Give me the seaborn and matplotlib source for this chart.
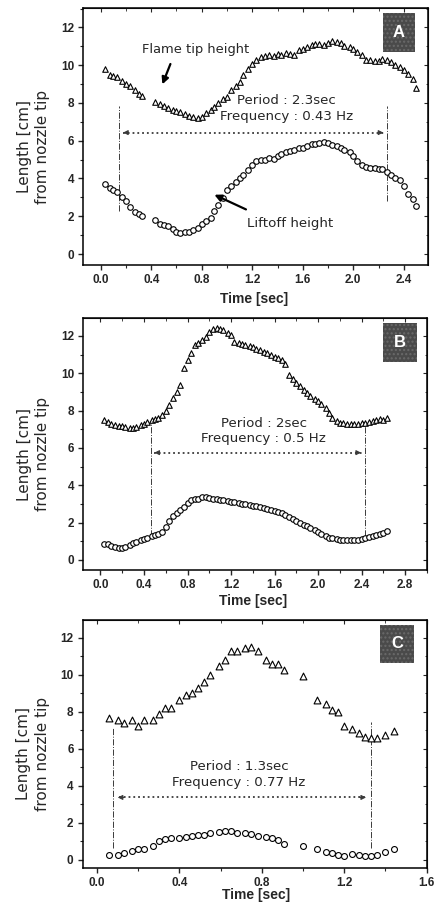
import matplotlib
matplotlib.use("Agg")
import matplotlib.pyplot as plt
import matplotlib.patches as mpatches
from matplotlib.ticker import MultipleLocator
import seaborn as sns

# ── Data ─────────────────────────────────────────────────────────────────────

# Panel A
TIME_A = [0.03, 0.07, 0.10, 0.13, 0.17, 0.20, 0.23, 0.27, 0.30, 0.33,
          0.43, 0.47, 0.50, 0.53, 0.57, 0.60, 0.63, 0.67, 0.70, 0.73,
          0.77, 0.80, 0.83, 0.87, 0.90, 0.93, 0.97,
          1.00, 1.03, 1.07, 1.10, 1.13, 1.17, 1.20, 1.23, 1.27, 1.30,
          1.33, 1.37, 1.40, 1.43, 1.47, 1.50, 1.53, 1.57, 1.60, 1.63,
          1.67, 1.70, 1.73, 1.77, 1.80, 1.83, 1.87, 1.90, 1.93, 1.97,
          2.00, 2.03, 2.07, 2.10, 2.13, 2.17, 2.20, 2.23, 2.27, 2.30,
          2.33, 2.37, 2.40, 2.43, 2.47, 2.50]
TIP_A = [9.8, 9.5, 9.45, 9.35, 9.15, 9.0, 8.9, 8.7, 8.5, 8.35,
         8.05, 7.95, 7.85, 7.75, 7.65, 7.55, 7.5, 7.4, 7.3, 7.25,
         7.2, 7.25, 7.45, 7.65, 7.8, 8.0, 8.2,
         8.3, 8.7, 8.9, 9.1, 9.5, 9.8, 10.05, 10.3, 10.45, 10.5,
         10.55, 10.5, 10.6, 10.55, 10.65, 10.6, 10.55, 10.8, 10.85, 10.95,
         11.05, 11.1, 11.1, 11.05, 11.2, 11.3, 11.25, 11.15, 11.0, 10.95,
         10.85, 10.7, 10.55, 10.3, 10.25, 10.2, 10.2, 10.35, 10.3, 10.15,
         10.0, 9.9, 9.75, 9.55, 9.25, 8.8]
LIFT_A = [3.7, 3.5, 3.4, 3.3, 3.0, 2.8, 2.5, 2.2, 2.1, 2.0,
          1.8, 1.6, 1.55, 1.5, 1.3, 1.15, 1.1, 1.15, 1.15, 1.25,
          1.4, 1.6, 1.75, 1.9, 2.3, 2.6, 2.95,
          3.4, 3.6, 3.8, 4.0, 4.2, 4.45, 4.7, 4.95, 5.0, 5.0,
          5.1, 5.05, 5.2, 5.3, 5.4, 5.45, 5.5, 5.6, 5.6, 5.7,
          5.8, 5.85, 5.9, 5.95, 5.9, 5.75, 5.7, 5.6, 5.5, 5.4,
          5.2, 4.9, 4.7, 4.6, 4.55, 4.55, 4.5, 4.5, 4.35, 4.2,
          4.05, 3.9, 3.6, 3.2, 2.9, 2.55]

# Panel B
TIME_B = [0.03, 0.07, 0.10, 0.13, 0.17, 0.20, 0.23, 0.27, 0.30, 0.33,
          0.37, 0.40, 0.43, 0.47, 0.50, 0.53, 0.57, 0.60, 0.63, 0.67,
          0.70, 0.73, 0.77, 0.80, 0.83, 0.87, 0.90, 0.93, 0.97,
          1.00, 1.03, 1.07, 1.10, 1.13, 1.17, 1.20, 1.23, 1.27, 1.30,
          1.33, 1.37, 1.40, 1.43, 1.47, 1.50, 1.53, 1.57, 1.60, 1.63,
          1.67, 1.70, 1.73, 1.77, 1.80, 1.83, 1.87, 1.90, 1.93, 1.97,
          2.00, 2.03, 2.07, 2.10, 2.13, 2.17, 2.20, 2.23, 2.27, 2.30,
          2.33, 2.37, 2.40, 2.43, 2.47, 2.50, 2.53, 2.57, 2.60, 2.63]
TIP_B = [7.5, 7.4, 7.3, 7.25, 7.2, 7.2, 7.1, 7.05, 7.05, 7.15,
         7.25, 7.3, 7.4, 7.5, 7.55, 7.6, 7.75, 8.0, 8.3, 8.7,
         9.0, 9.4, 10.3, 10.7, 11.1, 11.5, 11.6, 11.8, 11.95,
         12.2, 12.4, 12.45, 12.35, 12.3, 12.15, 12.05, 11.7, 11.6, 11.55,
         11.5, 11.45, 11.4, 11.3, 11.25, 11.15, 11.1, 11.0, 10.9, 10.8,
         10.7, 10.5, 9.9, 9.7, 9.5, 9.3, 9.1, 8.95, 8.8, 8.65,
         8.5, 8.35, 8.15, 7.9, 7.6, 7.45, 7.35, 7.35, 7.3, 7.3,
         7.3, 7.3, 7.35, 7.35, 7.4, 7.45, 7.5, 7.55, 7.5, 7.6]
LIFT_B = [0.85, 0.85, 0.75, 0.7, 0.65, 0.65, 0.7, 0.8, 0.9, 0.95,
          1.05, 1.1, 1.2, 1.3, 1.35, 1.4, 1.5, 1.75, 2.1, 2.35,
          2.5, 2.7, 2.85, 3.05, 3.2, 3.25, 3.25, 3.35, 3.35,
          3.3, 3.25, 3.25, 3.2, 3.2, 3.15, 3.1, 3.1, 3.05, 3.0,
          3.0, 2.95, 2.9, 2.9, 2.85, 2.8, 2.75, 2.7, 2.6, 2.55,
          2.5, 2.4, 2.3, 2.2, 2.1, 2.0, 1.9, 1.8, 1.7, 1.6,
          1.5, 1.4, 1.3, 1.2, 1.15, 1.1, 1.05, 1.05, 1.05, 1.05,
          1.05, 1.05, 1.1, 1.15, 1.25, 1.3, 1.35, 1.4, 1.45, 1.55]

# Panel C
TIME_C = [0.06, 0.10, 0.13, 0.17, 0.20, 0.23, 0.27, 0.30, 0.33, 0.36,
          0.40, 0.43, 0.46, 0.49, 0.52, 0.55, 0.59, 0.62, 0.65, 0.68,
          0.72, 0.75, 0.78, 0.82, 0.85, 0.88, 0.91,
          1.00, 1.07, 1.11, 1.14, 1.17, 1.20, 1.24, 1.27, 1.30,
          1.33, 1.36, 1.40, 1.44]
TIP_C = [7.65, 7.55, 7.4, 7.55, 7.2, 7.55, 7.55, 7.85, 8.2, 8.2,
         8.65, 8.9, 9.0, 9.25, 9.6, 9.95, 10.45, 10.8, 11.3, 11.25,
         11.45, 11.5, 11.25, 10.8, 10.55, 10.55, 10.25,
         9.9, 8.65, 8.4, 8.1, 8.0, 7.2, 7.05, 6.85, 6.65,
         6.55, 6.55, 6.75, 6.95]
LIFT_C = [0.25, 0.25, 0.35, 0.45, 0.55, 0.55, 0.75, 1.0, 1.1, 1.15,
          1.15, 1.2, 1.25, 1.35, 1.35, 1.45, 1.5, 1.55, 1.55, 1.45,
          1.45, 1.4, 1.3, 1.2, 1.15, 1.05, 0.85,
          0.75, 0.55, 0.4, 0.35, 0.25, 0.2, 0.3, 0.25, 0.2,
          0.2, 0.25, 0.4, 0.6]

PERIOD_TEXT = ["Period : 2.3sec\nFrequency : 0.43 Hz",
               "Period : 2sec\nFrequency : 0.5 Hz",
               "Period : 1.3sec\nFrequency : 0.77 Hz"]
PANEL_LABELS = ["A", "B", "C"]

# ── Style ────────────────────────────────────────────────────────────────────

sns.set_style("ticks")
plt.rcParams["font.family"] = ["Liberation Sans", "DejaVu Sans"]
ANNOT_FONT = "DejaVu Sans"
LINE_COL = "#3a3a3a"


def draw_series(ax, t, tip, lift, tri_s, circ_s):
    sns.scatterplot(x=t, y=tip, marker="^", s=tri_s, color="white",
                    edgecolor="black", linewidth=0.8, ax=ax, zorder=3)
    sns.scatterplot(x=t, y=lift, marker="o", s=circ_s, color="white",
                    edgecolor="black", linewidth=0.8, ax=ax, zorder=3)


def style_axes(ax, xlim, ylim, xmax_tick, xlabel_xy):
    ax.set_xlim(*xlim)
    ax.set_ylim(*ylim)
    ax.set_xticks([round(0.4 * i, 1) for i in range(int(round(xmax_tick / 0.4)) + 1)])
    ax.xaxis.set_minor_locator(MultipleLocator(0.2))
    ax.set_yticks([0, 2, 4, 6, 8, 10, 12])
    ax.yaxis.set_minor_locator(MultipleLocator(1))
    ax.xaxis.set_major_formatter(matplotlib.ticker.FormatStrFormatter("%.1f"))
    ax.tick_params(which="major", direction="out", length=3.5, width=1,
                   labelsize=8.5, pad=3)
    ax.tick_params(which="minor", direction="out", length=2, width=0.8)
    for lab in ax.get_xticklabels() + ax.get_yticklabels():
        lab.set_fontweight("bold")
    for spine in ax.spines.values():
        spine.set_visible(True)
        spine.set_linewidth(1.1)
        spine.set_color("black")

    # inward ticks on top / right
    top = ax.secondary_xaxis("top")
    top.set_xticks(ax.get_xticks())
    top.xaxis.set_minor_locator(MultipleLocator(0.2))
    top.tick_params(which="major", direction="in", length=3, labeltop=False)
    top.tick_params(which="minor", direction="in", length=1.8)
    right = ax.secondary_yaxis("right")
    right.set_yticks([0, 2, 4, 6, 8, 10, 12])
    right.yaxis.set_minor_locator(MultipleLocator(1))
    right.tick_params(which="major", direction="in", length=3, labelright=False)
    right.tick_params(which="minor", direction="in", length=1.8)

    ax.set_ylabel("Length [cm]\nfrom nozzle tip", fontsize=11,
                  family=ANNOT_FONT, linespacing=1.3)
    ax.yaxis.set_label_coords(-0.095, 0.46)
    ax.set_xlabel("Time [sec]", fontsize=10, fontweight="bold")
    ax.xaxis.set_label_coords(*xlabel_xy)


def period_marks(ax, x0, x1, lines0, lines1, yarrow, text_xy, text):
    ax.plot([x0, x0], lines0, ls="-.", lw=0.7, color=LINE_COL, zorder=2)
    ax.plot([x1, x1], lines1, ls="-.", lw=0.7, color=LINE_COL, zorder=2)
    ax.plot([x0 + 0.03, x1 - 0.03], [yarrow, yarrow], ls=":", lw=1.3,
            color=LINE_COL, zorder=2)
    span = (x1 - x0) * 0.03
    ax.annotate("", xy=(x0 + 0.01, yarrow), xytext=(x0 + span + 0.03, yarrow),
                arrowprops=dict(arrowstyle="-|>", color=LINE_COL, lw=0.8,
                                mutation_scale=7))
    ax.annotate("", xy=(x1 - 0.01, yarrow), xytext=(x1 - span - 0.03, yarrow),
                arrowprops=dict(arrowstyle="-|>", color=LINE_COL, lw=0.8,
                                mutation_scale=7))
    ax.text(*text_xy, text, ha="center", va="center", fontsize=9.6,
            family=ANNOT_FONT, linespacing=1.25, zorder=4)


def panel_badge(ax, x0, y0, w, h, letter):
    rect = mpatches.Rectangle((x0, y0), w, h, transform=ax.transAxes,
                              facecolor="#4a4a4a", edgecolor="#6a6a6a",
                              hatch="....", linewidth=0, zorder=5)
    ax.add_patch(rect)
    ax.text(x0 + w / 2, y0 + h / 2, letter, transform=ax.transAxes,
            ha="center", va="center", color="white", fontsize=12,
            fontweight="bold", zorder=6)


# ── Figure ───────────────────────────────────────────────────────────────────

fig = plt.figure(figsize=(4.37, 9.08), dpi=100)
ax_a = fig.add_axes([0.190, 0.7082, 0.789, 0.283])
ax_b = fig.add_axes([0.190, 0.3722, 0.787, 0.2775])
ax_c = fig.add_axes([0.189, 0.0441, 0.787, 0.2731])

# Panel A
draw_series(ax_a, TIME_A, TIP_A, LIFT_A, 16, 16)
style_axes(ax_a, (-0.14, 2.59), (-0.58, 13.03), 2.4, (0.496, -0.104))
period_marks(ax_a, 0.145, 2.27, (2.3, 7.85), (2.8, 7.85), 6.43,
             (1.47, 7.7), PERIOD_TEXT[0])
ax_a.text(0.75, 10.85, "Flame tip height", ha="center", va="center",
          fontsize=9.4, family=ANNOT_FONT, zorder=4)
ax_a.annotate("", xy=(0.48, 8.85), xytext=(0.56, 10.2),
              arrowprops=dict(arrowstyle="-|>", color="black", lw=1.6,
                              mutation_scale=10))
ax_a.text(1.5, 1.6, "Liftoff height", ha="center", va="center",
          fontsize=9.6, family=ANNOT_FONT, zorder=4)
ax_a.annotate("", xy=(0.88, 3.2), xytext=(1.17, 2.3),
              arrowprops=dict(arrowstyle="-|>", color="black", lw=1.6,
                              mutation_scale=10))
panel_badge(ax_a, 0.87, 0.83, 0.093, 0.15, PANEL_LABELS[0])

# Panel B
draw_series(ax_b, TIME_B, TIP_B, LIFT_B, 16, 16)
style_axes(ax_b, (-0.16, 3.0), (-0.54, 12.96), 2.8, (0.494, -0.095))
period_marks(ax_b, 0.46, 2.43, (1.3, 7.5), (1.3, 7.4), 5.75,
             (1.5, 6.9), PERIOD_TEXT[1])
panel_badge(ax_b, 0.872, 0.825, 0.099, 0.155, PANEL_LABELS[1])

# Panel C
draw_series(ax_c, TIME_C, TIP_C, LIFT_C, 24, 18)
style_axes(ax_c, (-0.07, 1.6), (-0.45, 12.95), 1.6, (0.505, -0.079))
period_marks(ax_c, 0.077, 1.33, (0.63, 7.1), (0.63, 7.45), 3.36,
             (0.69, 4.6), PERIOD_TEXT[2])
panel_badge(ax_c, 0.864, 0.827, 0.101, 0.153, PANEL_LABELS[2])

fig.savefig("out.png", dpi=100)
